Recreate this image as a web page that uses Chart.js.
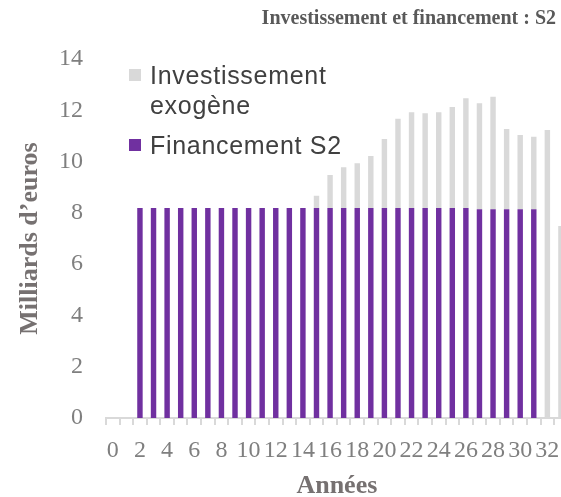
<!DOCTYPE html>
<html>
<head>
<meta charset="utf-8">
<script src="https://cdn.jsdelivr.net/npm/chart.js@4"></script>
<style>
  html, body { margin: 0; padding: 0; background: #fff; }
  body { width: 561px; height: 497px; overflow: hidden; position: relative; }
  #chart { position: absolute; left: 0; top: 0; }
  #title {
    position: absolute; right: 5px; top: 6px;
    font: bold 20px "Liberation Serif", serif; color: #595959; white-space: nowrap;
  }
  #legend {
    position: absolute; left: 129px; top: 60px;
    font: 25px "Liberation Sans", Arial, sans-serif; color: #404040;
    line-height: 30px; letter-spacing: 0.7px;
  }
  #legend .row { position: relative; padding-left: 21px; white-space: nowrap; }
  #legend .sw { position: absolute; left: 0; top: 9px; width: 12px; height: 12px; }
</style>
</head>
<body>
<canvas id="chart" width="572" height="497"></canvas>
<div id="title">Investissement et financement : S2</div>
<div id="legend">
  <div class="row"><span class="sw" style="background:#d9d9d9"></span>Investissement<br>exogène</div>
  <div class="row" style="margin-top:10px"><span class="sw" style="background:#7030a0"></span>Financement S2</div>
</div>
<script>
// ---------- Data ----------- //
const annees = [0, 1, 2, 3, 4, 5, 6, 7, 8, 9, 10, 11, 12, 13, 14, 15, 16,
  17, 18, 19, 20, 21, 22, 23, 24, 25, 26, 27, 28, 29, 30, 31, 32, 33];

// Financement S2 (bas de pile)
const financementS2 = [0, 0, 8.19, 8.19, 8.19, 8.19, 8.19, 8.19, 8.19, 8.19,
  8.19, 8.19, 8.19, 8.19, 8.19, 8.19, 8.19, 8.19, 8.19, 8.19, 8.19, 8.19,
  8.19, 8.19, 8.19, 8.19, 8.19, 8.14, 8.14, 8.14, 8.14, 8.14, 0, 0];

// Investissement exogène (au-dessus)
const investExogene = [0, 0, 0, 0, 0, 0, 0, 0, 0, 0, 0, 0, 0, 0, 0, 0.48,
  1.29, 1.59, 1.74, 2.03, 2.69, 3.48, 3.73, 3.69, 3.73, 3.94, 4.28, 4.13,
  4.39, 3.13, 2.90, 2.83, 11.23, 7.49];

const yTicks = [0, 2, 4, 6, 8, 10, 12, 14];

const serif = "'Liberation Serif', 'Times New Roman', serif";
const tickGrey = "#7f7f7f";
const titleGrey = "#767171";

// ---------- Chart ----------- //
new Chart(document.getElementById("chart"), {
  type: "bar",
  data: {
    labels: annees,
    datasets: [
      {
        label: "Financement S2",
        data: financementS2,
        backgroundColor: "#7030a0",
        borderWidth: 0,
      },
      {
        label: "Investissement exogène",
        data: investExogene,
        backgroundColor: "#d9d9d9",
        borderWidth: 0,
      },
    ],
  },
  options: {
    responsive: false,
    animation: false,
    barPercentage: 0.4,
    categoryPercentage: 1,
    layout: { padding: { top: 59, right: 4, left: 0, bottom: 0 } },
    plugins: {
      legend: { display: false },
      tooltip: { enabled: false },
    },
    scales: {
      x: {
        stacked: true,
        afterFit: (scale) => { scale.height = 79; },
        grid: {
          display: true,
          drawOnChartArea: false,
          drawTicks: true,
          tickLength: 7,
          color: "#d9d9d9",
          lineWidth: 2,
        },
        border: { display: true, color: "#d9d9d9", width: 2 },
        ticks: {
          autoSkip: false,
          maxRotation: 0,
          minRotation: 0,
          padding: 11,
          color: tickGrey,
          font: { family: serif, size: 24 },
          callback: (v, i) => (annees[i] % 2 === 0 ? String(annees[i]) : ""),
        },
        title: {
          display: true,
          text: "Années",
          color: titleGrey,
          font: { family: serif, size: 26, weight: "bold" },
          padding: { top: 0, bottom: -5 },
        },
      },
      y: {
        stacked: true,
        min: 0,
        max: 14,
        afterFit: (scale) => { scale.width = 106; },
        afterBuildTicks: (scale) => {
          scale.ticks = yTicks.map((v) => ({ value: v }));
        },
        grid: { display: false },
        border: { display: false },
        ticks: {
          padding: 15,
          color: tickGrey,
          font: { family: serif, size: 24 },
        },
        title: {
          display: true,
          text: "Milliards d’euros",
          color: titleGrey,
          font: { family: serif, size: 26, weight: "bold" },
          padding: { top: 15, bottom: 0 },
        },
      },
    },
  },
});
</script>
</body>
</html>
